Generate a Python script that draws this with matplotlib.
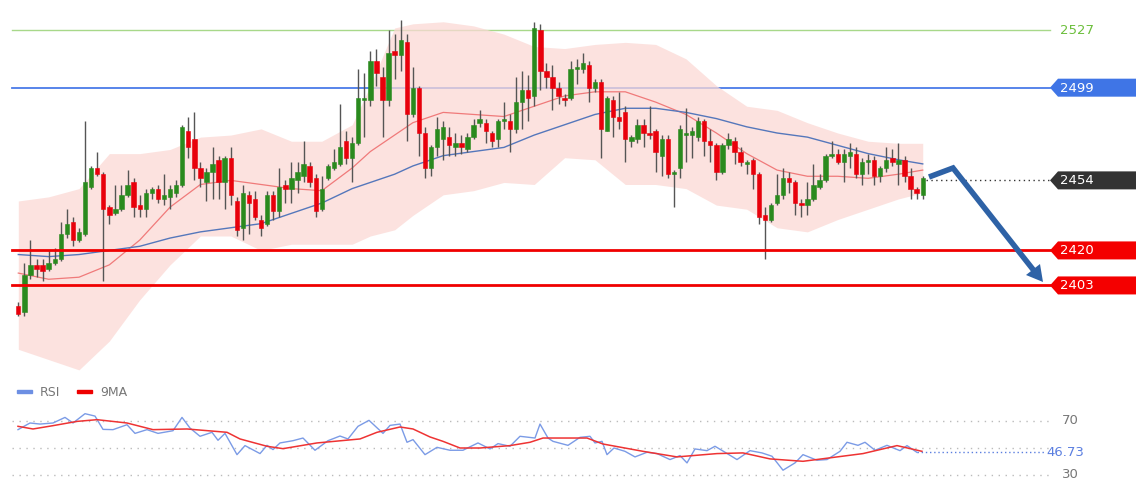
import numpy as np
import matplotlib
matplotlib.use("Agg")
import matplotlib.pyplot as plt
from matplotlib.patches import Polygon, Rectangle

# ---------------- data ----------------
opens = [2393,2390,2408,2413,2413,2411,2414,2416,2428,2434,2425,2428,2451,2460,2457,2441,2438,2440,2447,2453,
         2442,2440,2448,2450,2445,2446,2448,2452,2478,2474,2460,2453,2458,2464,2453,2465,2444,2431,2447,2445,
         2435,2433,2447,2439,2452,2450,2454,2456,2461,2455,2440,2455,2460,2462,2473,2465,2472,2493,2493,2512,
         2504,2493,2517,2515,2521,2486,2499,2477,2460,2470,2474,2475,2470,2472,2469,2475,2482,2482,2477,2474,
         2483,2483,2479,2492,2498,2495,2527,2507,2504,2499,2494,2494,2508,2508,2510,2499,2502,2478,2493,2485,
         2487,2473,2474,2481,2477,2478,2466,2474,2457,2460,2476,2476,2475,2483,2473,2471,2458,2471,2473,2468,
         2462,2464,2457,2437,2435,2443,2447,2455,2453,2443,2442,2445,2451,2454,2466,2467,2463,2466,2467,2457,
         2463,2464,2456,2460,2465,2462,2464,2456,2450,2447]
closes = [2389,2408,2413,2411,2410,2414,2416,2428,2433,2425,2429,2453,2460,2457,2440,2437,2440,2447,2452,2441,
          2440,2448,2450,2445,2447,2450,2452,2480,2470,2460,2455,2458,2462,2453,2465,2447,2430,2448,2443,2436,
          2431,2447,2439,2451,2450,2455,2458,2462,2453,2439,2450,2461,2463,2470,2465,2472,2494,2494,2512,2506,
          2493,2516,2515,2522,2486,2499,2477,2460,2470,2479,2480,2471,2472,2470,2475,2481,2484,2478,2473,2483,
          2484,2479,2492,2498,2494,2528,2507,2504,2499,2495,2493,2508,2509,2511,2499,2502,2479,2494,2485,2483,
          2474,2475,2481,2477,2476,2468,2474,2457,2458,2479,2477,2478,2483,2473,2471,2458,2471,2474,2468,2463,
          2463,2457,2436,2435,2442,2447,2455,2453,2443,2442,2445,2452,2454,2466,2467,2463,2467,2468,2457,2463,
          2464,2456,2460,2464,2463,2464,2456,2450,2448,2455]
highs = [2395,2414,2425,2416,2416,2420,2421,2434,2440,2436,2431,2483,2461,2468,2458,2442,2452,2452,2459,2455,
         2447,2450,2451,2452,2457,2452,2454,2481,2485,2487,2463,2460,2470,2466,2466,2470,2446,2452,2449,2449,
         2437,2449,2449,2460,2454,2463,2463,2473,2463,2457,2456,2462,2469,2491,2478,2475,2508,2506,2517,2518,
         2509,2527,2525,2532,2525,2509,2500,2480,2471,2485,2483,2480,2477,2476,2477,2484,2488,2484,2478,2484,
         2492,2486,2504,2507,2505,2531,2530,2511,2510,2502,2496,2512,2513,2516,2512,2503,2503,2495,2495,2497,
         2490,2476,2484,2484,2490,2479,2476,2476,2459,2481,2489,2480,2485,2484,2479,2472,2472,2477,2475,2470,
         2464,2465,2458,2441,2443,2457,2460,2458,2454,2445,2453,2462,2457,2467,2473,2469,2469,2472,2470,2465,
         2467,2466,2461,2470,2469,2472,2466,2460,2451,2456]
lows = [2388,2388,2406,2407,2405,2410,2413,2415,2426,2422,2424,2427,2450,2456,2405,2433,2437,2439,2446,2436,
        2436,2436,2445,2443,2442,2440,2446,2451,2465,2454,2451,2444,2445,2445,2440,2442,2427,2425,2428,2435,
        2427,2432,2435,2436,2443,2443,2448,2453,2451,2436,2439,2454,2459,2461,2462,2453,2471,2475,2490,2500,
        2475,2490,2503,2507,2473,2485,2466,2455,2456,2466,2464,2466,2466,2467,2468,2474,2480,2472,2470,2470,
        2479,2468,2477,2479,2483,2490,2498,2499,2488,2491,2490,2493,2501,2506,2492,2497,2465,2478,2475,2479,
        2463,2470,2472,2470,2474,2458,2456,2455,2441,2455,2463,2465,2473,2466,2463,2454,2457,2469,2462,2461,
        2457,2450,2433,2416,2434,2442,2445,2448,2437,2436,2437,2444,2450,2453,2465,2462,2453,2460,2455,2452,
        2457,2452,2453,2458,2461,2452,2453,2445,2445,2445]

band_idx   = [0, 5, 10, 15, 20, 25, 30, 35, 40, 45, 50, 55, 58, 62, 65, 70, 75, 80, 85, 90, 95,
              100, 105, 110, 115, 120, 125, 130, 135, 140, 145, 149]
band_upper = [2444, 2446, 2450, 2467, 2467, 2469, 2475, 2476, 2479, 2473, 2473, 2481, 2500, 2528, 2530, 2531, 2529,
              2525, 2519, 2518, 2520, 2521, 2520, 2513, 2500, 2490, 2488, 2482, 2477, 2473, 2472, 2472]
band_lower = [2372, 2367, 2362, 2376, 2396, 2413, 2427, 2427, 2420, 2423, 2423, 2423, 2427, 2430, 2437, 2447, 2449,
              2453, 2452, 2465, 2464, 2452, 2452, 2450, 2442, 2440, 2431, 2429, 2435, 2440, 2445, 2448]
ma_red     = [2409, 2406, 2407, 2413, 2425, 2441, 2452, 2454, 2452, 2450, 2449, 2460, 2468, 2476, 2482, 2487, 2486,
              2485, 2490, 2495, 2497, 2497, 2492, 2486, 2477, 2467, 2459, 2456, 2456, 2455, 2457, 2459]
ma_blue    = [2418, 2417, 2418, 2420, 2422, 2426, 2429, 2431, 2433, 2438, 2443, 2450, 2453, 2457, 2461, 2466, 2468,
              2470, 2476, 2481, 2486, 2489, 2489, 2487, 2484, 2480, 2477, 2475, 2471, 2467, 2464, 2462]

rsi_px = [18,30,40,53,65,73,85,95,103,113,127,135,147,158,173,182,190,200,212,218,225,237,245,260,267,273,
          280,293,303,315,328,340,348,358,369,383,390,400,407,413,425,437,450,463,473,478,490,498,510,520,
          535,540,548,553,568,580,590,595,602,607,614,625,635,647,657,670,680,687,695,707,715,725,737,750,
          762,772,783,795,803,817,827,840,847,858,865,875,887,900,907,917]
rsi_val = [63.8,68.8,68,68.8,73,68.8,75.8,74,64,63.8,67.5,61,63.8,61,63,73,65,58.8,61.8,55.8,61,45,51.8,45.8,
           52,48.8,53.8,55.5,57.5,48.3,55.5,59,56.8,66.3,70.8,61,67,68,54.3,56.3,45,50.5,48.3,48.3,52,53.8,
           49.3,53.3,51.3,58.8,57.5,68,57.5,55,52,58,58.8,53.8,55,45,50,47.5,43.3,46.8,45.8,41.3,44.3,38.8,
           49.3,48,51.3,46.8,41.3,48,46.3,43.8,33.3,38.8,45,40.8,41.3,47.5,54.3,52,54.3,48.3,52,48,51.8,46.7]
ma9_px = [18,33,53,77,97,127,153,187,227,240,267,283,317,360,377,400,413,430,443,460,480,510,530,543,587,
          603,643,677,717,743,770,803,863,897,922]
ma9_val = [66.3,64.3,66.8,70,71.3,68.8,63.8,64.3,61.8,56.8,51.3,49.5,53.8,56.8,61.8,65.8,64.3,58.3,55,50,
           50,51.8,54.3,57.5,57.5,53,47.5,43.3,45.8,46.3,41.8,40,45.8,51.8,47.5]

levels = {"2527": 2527, "2499": 2499, "2420": 2420, "2403": 2403}
last_price = 2454
rsi_last = 46.73

# ---------------- layout ----------------
W, H = 1140, 500
fig = plt.figure(figsize=(W/100, H/100), dpi=100)
fig.patch.set_facecolor("white")
x0_px, dx_px = 18.3, 6.07
xl = ((0 - x0_px) / dx_px, (W - x0_px) / dx_px)
def px2i(p): return (np.asarray(p, float) - x0_px) / dx_px

ax = fig.add_axes([0, 1 - 380/H, 1, 370/H])
ax.set_xlim(*xl)
ax.set_ylim(2527 - 350/2.06, 2527 + 20/2.06)
ax.axis("off")

ax.fill_between(band_idx, band_lower, band_upper, color="#fbd9d5", alpha=0.75, lw=0, zorder=1)
ax.plot(band_idx, ma_red, color="#f07a7a", lw=0.9, zorder=2)
ax.plot(band_idx, ma_blue, color="#5577bb", lw=1.0, zorder=2)

n = len(closes)
for i in range(n):
    o, c, h, l = opens[i], closes[i], highs[i], lows[i]
    col = "#2a8a1e" if c >= o else "#e8000b"
    ax.vlines(i, l, h, color="#555555", lw=1, zorder=3)
    ax.add_patch(Rectangle((i - 0.36, min(o, c)), 0.72, max(abs(c - o), 0.6),
                           facecolor=col, edgecolor=col, lw=0.4, zorder=4))

xmax_line = 1050 / W
ax.axhline(levels["2527"], xmin=12/W, xmax=xmax_line, color="#a8d88a", lw=1, zorder=0)
ax.axhline(levels["2499"], xmin=12/W, xmax=xmax_line, color="#4a7be8", lw=1.3, zorder=0)
ax.axhline(levels["2420"], xmin=12/W, xmax=xmax_line, color="#f00000", lw=2, zorder=5)
ax.axhline(levels["2403"], xmin=12/W, xmax=xmax_line, color="#f00000", lw=2, zorder=5)
ax.hlines(last_price, n - 0.5, px2i(1050), color="#333333", lw=1, linestyles=(0, (1, 2.5)), zorder=5)

# RSI panel
ar = fig.add_axes([0, 1 - 490/H, 1, 90/H])
ar.set_xlim(*xl)
ar.set_ylim(50 - 42/1.33, 50 + 48/1.33)
ar.axis("off")
for lv in (70, 50, 30):
    ar.hlines(lv, px2i(12), px2i(1050), color="#bbbbbb", lw=1, linestyles=(0, (1, 4)))
ar.plot(px2i(rsi_px), rsi_val, color="#7b9be6", lw=1)
ar.plot(px2i(ma9_px), ma9_val, color="#ee3333", lw=1.1)
ar.hlines(rsi_last, px2i(rsi_px[-1]), px2i(1045), color="#5b7fe0", lw=1, linestyles=(0, (1, 2)))

# overlay (pixel coords) for labels and arrow
ov = fig.add_axes([0, 0, 1, 1])
ov.set_xlim(0, W); ov.set_ylim(H, 0); ov.axis("off")
def py(p): return 30 + (2527 - p) * 2.06

def tag(ypix, text, col):
    x1, x2, h = 1050, 1136, 9
    ov.add_patch(Polygon([(x1, ypix), (x1 + 8, ypix - h), (x2, ypix - h), (x2, ypix + h), (x1 + 8, ypix + h)],
                         closed=True, facecolor=col, edgecolor="none"))
    ov.text(1060, ypix + 0.5, text, color="white", fontsize=9.5, va="center", ha="left", family="DejaVu Sans")

ov.text(1060, py(2527), "2527", color="#6cbf3c", fontsize=9.5, va="center", ha="left")
tag(py(2499), "2499", "#3f75e6")
tag(py(2454), "2454", "#333333")
tag(py(2420), "2420", "#f40000")
tag(py(2403), "2403", "#f40000")

# forecast arrow
ov.plot([929, 953, 1035], [177, 168, 272], color="#2e62a6", lw=4, solid_capstyle="butt", solid_joinstyle="miter")
ov.add_patch(Polygon([(1043, 282), (1026, 275), (1040, 264)], closed=True, facecolor="#2e62a6", edgecolor="none"))

# RSI labels & legend
ov.text(1062, 421, "70", color="#777777", fontsize=9.5, va="center")
ov.text(1062, 475, "30", color="#777777", fontsize=9.5, va="center")
ov.text(1046, 452, "46.73", color="#5b7fe0", fontsize=9.5, va="center")
ov.add_patch(Rectangle((17, 390), 15, 3, color="#6d8fe3"))
ov.text(40, 392, "RSI", color="#777777", fontsize=9, va="center")
ov.add_patch(Rectangle((77, 390), 15, 3, color="#ee0000"))
ov.text(100, 392, "9MA", color="#777777", fontsize=9, va="center")

fig.savefig("out.png", dpi=100, facecolor="white")
